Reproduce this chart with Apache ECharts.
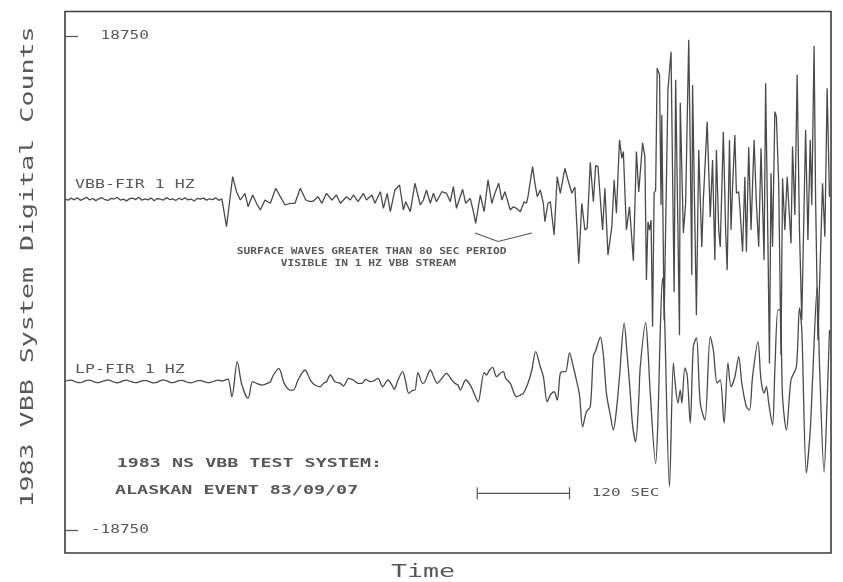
<!DOCTYPE html>
<html>
<head>
<meta charset="utf-8">
<script src="https://cdn.jsdelivr.net/npm/echarts@6/dist/echarts.min.js"></script>
<style>
  html, body { margin: 0; padding: 0; background: #ffffff; }
  #chart { width: 843px; height: 582px; }
</style>
</head>
<body>
<div id="chart"></div>
<script>
// ---- Seismogram data: time in seconds, amplitude in digital counts ----

// Axis tick values (counts)
const yTickValues = [18750, -18750];

// Trace baselines (counts) at which each channel is drawn
const VBB_BASE = 6346;
const LP_BASE = -7485;

// Pre-event noise, one sample every 4 s from t = 0
const QUIET_STEP = 4;
const vbbQuiet = [20,-60,90,-40,110,-80,30,150,-50,60,
  -100,40,120,-30,-90,70,20,140,-60,10,
  -120,50,90,-20,160,-70,30,-40,100,-110,
  60,10,-60,130,-20,40,-90,80,-30,120,
  -50,20,-130,70,10,90,-60,40,-20,110,
  -80,30];
const lpQuiet = [0,80,100,20,-70,-90,-10,90,110,30,
  -60,-80,0,70,120,50,-50,-100,-40,60,
  100,40,-40,-80,-30,50,90,30,-60,-110,
  -50,70,130,60,-40,-90,-20,60,90,20,
  -70,-100,-30,50,80,10,-60,-80,-20,70,
  100,40];

// VBB-FIR 1 Hz, event arrivals (times / counts)
const vbbTimes = [
  206,210,218,223,228,234,238,244,249,254,
  260,267,274,280,286,293,299,306,313,319,
  323,329,334,340,347,353,358,366,371,375,
  381,388,392,399,403,410,414,419,423,429,
  435,440,443,449,455,462,466,470,475,479,
  483,490,496,501,505,509,517,521,527,531,
  534,540,545,550,555,559,564,568,572,579,
  583,587,592,597,600,602,608,611,614,618,
  622,624,628,631,636,640,644,650,654,659,
  663,668,672,676,679,683,687,690,693,699,
  702,706,711,714,717,721,724,726,730,734,
  739,743,746,751,754,756,758,760,762,764,
  766,768,770,773,775,776,779,784,788,792,
  794,799,800,804,807,811,813,815,816,821,
  824,828,830,835,839,842,845,847,850,852,
  856,859,861,864,866,868,871,873,876,878,
  881,884,886,889,892,896,899,902,905,909,
  911,914,916,918,920,923,925,928,931,933,
  936,939,942,944,946,949,952,955,958,963,
  966,969,971,974,976,979,985,988,991,994];
const vbbCounts = [
  175,-2082,1718,578,-53,456,-562,327,-304,-813,
  -53,-304,836,198,-433,-304,-304,836,-53,-182,
  -129,198,-304,456,-53,327,-304,198,-53,327,
  -182,456,-53,327,-304,578,-684,456,-942,707,
  1087,-813,-182,-942,1216,-433,-53,707,-304,456,
  -182,578,456,-182,958,-684,760,-304,76,-942,
  -1824,327,-942,1467,-304,456,1216,-53,578,-813,
  -562,-684,-942,-182,-304,198,2478,1216,198,707,
  -304,-1702,-304,-182,-2713,1718,456,2356,1467,456,
  935,-4864,-304,-2333,-2181,2812,-182,2554,2478,-2333,
  836,-4233,-2082,1467,-1064,4507,3116,3618,-2333,-562,
  -4666,3618,555,4279,3238,-6133,-1702,-2333,-1573,-9682,
  456,707,9956,9447,-433,6407,-9173,8307,11195,-7049,
  9067,-10313,7319,-2561,-281,12107,3747,-5753,8667,-8793,
  3747,-3625,-53,5875,-1345,2987,-4613,3747,-2333,-3625,
  5115,-2333,-5373,4507,-2333,958,4887,456,578,-1064,
  -3982,1718,-3982,3952,-2333,4507,-304,-3602,3876,-4613,
  8816,-3344,-12464,1976,-3602,6658,6278,1216,-11833,1596,
  -2333,1718,-1322,-3344,3998,-1193,9447,-2333,-9173,5267,
  -3093,4507,-433,11651,-53,-10700,1216,-2842,8436,198];

// LP-FIR 1 Hz, event arrivals (times / counts)
const lpTimes = [
  208,212,217,224,230,238,244,249,256,261,
  267,271,278,285,293,297,303,312,319,325,
  332,336,340,345,351,358,362,369,375,381,
  386,391,397,401,407,413,420,425,428,433,
  439,443,447,453,455,459,465,468,475,481,
  484,490,496,503,507,511,514,521,527,531,
  537,545,548,552,556,561,566,570,573,579,
  587,592,596,602,607,612,618,622,627,631,
  636,640,644,648,651,656,661,665,669,673,
  678,683,687,690,696,700,704,709,713,717,
  721,727,731,735,738,742,746,748,755,758,
  761,768,771,774,777,779,786,791,793,797,
  800,802,806,809,813,817,821,826,832,839,
  843,848,852,857,862,866,871,876,880,886,
  890,894,901,905,909,912,915,920,923,927,
  930,933,938,944,951,955,958,964,969,972,
  978,981,987,991,994];
const lpCounts = [
  114,190,-1155,1505,-266,-1277,-15,-137,-266,-190,
  -15,494,1003,-137,-646,-646,114,874,114,-266,
  -395,-137,-15,494,-15,-137,-342,243,114,-137,
  -137,167,-15,38,243,-395,114,-266,-593,114,
  745,-15,-897,-646,-646,669,-137,-15,874,114,
  -137,243,623,114,-137,-266,-646,114,-266,-775,
  -1535,669,494,874,1079,365,623,745,243,-137,
  -1155,-1026,-897,-137,874,2265,1125,365,-1535,-1026,
  -775,-1406,623,745,745,2166,1102,114,-1026,-3435,
  -2295,-1915,1961,2341,3359,2014,-897,-2546,-3686,-2166,
  365,4423,2014,-897,-3306,-4575,-1406,1125,4469,2394,
  -897,-6217,-2926,3914,7866,6194,-7995,1406,114,-1634,
  -646,-1634,1026,494,-3154,2645,3306,-1634,-2926,3405,
  2394,-114,114,-3154,1406,-395,365,1885,-114,-1915,
  -2166,365,3025,114,-874,-395,-1634,-3306,874,5434,
  5434,-1155,-3686,114,1125,5586,3914,-6954,-3686,114,
  7182,1406,-6878,-1406,3914];

// Time scale bar
const scaleBarStart = 536;
const scaleBarSeconds = 120;
const scaleBarLabel = '120 SEC';

// Annotation texts
const vbbLabel = 'VBB-FIR 1 HZ';
const lpLabel = 'LP-FIR 1 HZ';
const noteLines = ['SURFACE WAVES GREATER THAN 80 SEC PERIOD', 'VISIBLE IN 1 HZ VBB STREAM'];
const titleLines = ['1983 NS VBB TEST SYSTEM:', 'ALASKAN EVENT 83/09/07'];
const yAxisTitle = '1983 VBB System Digital Counts';
const xAxisTitle = 'Time';

// ---- Build series points ----
function buildTrace(quiet, times, counts, base) {
  const pts = quiet.map((v, i) => [i * QUIET_STEP, v + base]);
  times.forEach((t, i) => pts.push([t, counts[i] + base]));
  return pts;
}
const vbbData = buildTrace(vbbQuiet, vbbTimes, vbbCounts, VBB_BASE);
const lpData = buildTrace(lpQuiet, lpTimes, lpCounts, LP_BASE);

const INK = '#4a4a4a';
const TEXT = '#585858';
const FONT = '"DejaVu Sans Mono", "Liberation Mono", monospace';
const SCALE_BAR_Y = -15970;

const chart = echarts.init(document.getElementById('chart'), null, { renderer: 'canvas' });

chart.setOption({
  animation: false,
  backgroundColor: '#ffffff',
  grid: {
    left: 65, right: 12, top: 11.5, bottom: 29,
    show: true, borderColor: '#3c3c3c', borderWidth: 1.6, backgroundColor: 'transparent'
  },
  xAxis: {
    type: 'value', min: 0, max: 996,
    axisLine: { show: false }, axisTick: { show: false },
    axisLabel: { show: false }, splitLine: { show: false }
  },
  yAxis: {
    type: 'value', min: -20500, max: 20600,
    axisLine: { show: false },
    axisTick: {
      show: true, inside: true, length: 13, customValues: yTickValues,
      lineStyle: { color: TEXT, width: 1.3 }
    },
    axisLabel: { show: false },
    splitLine: { show: false }
  },
  series: [
    {
      name: vbbLabel, type: 'line', data: vbbData, showSymbol: false,
      lineStyle: { color: INK, width: 1.3 }, z: 3
    },
    {
      name: lpLabel, type: 'line', data: lpData, showSymbol: false, smooth: 0.3,
      lineStyle: { color: INK, width: 1.3 }, z: 3
    },
    {
      type: 'custom',
      data: [[scaleBarStart, scaleBarStart + scaleBarSeconds]],
      renderItem: function (params, api) {
        const a = api.coord([api.value(0), SCALE_BAR_Y]);
        const b = api.coord([api.value(1), SCALE_BAR_Y]);
        const st = { stroke: '#555', lineWidth: 1.2 };
        return {
          type: 'group',
          children: [
            { type: 'line', shape: { x1: a[0], y1: a[1], x2: b[0], y2: b[1] }, style: st },
            { type: 'line', shape: { x1: a[0], y1: a[1] - 6, x2: a[0], y2: a[1] + 6 }, style: st },
            { type: 'line', shape: { x1: b[0], y1: b[1] - 6, x2: b[0], y2: b[1] + 6 }, style: st }
          ]
        };
      },
      z: 4
    }
  ]
});

function txt(text, x, y, size, scaleX, align, extra) {
  return Object.assign({
    type: 'text', x: x, y: y, scaleX: scaleX, silent: true, z: 10,
    style: {
      text: text, fontFamily: FONT, fontSize: size, fill: TEXT,
      align: align || 'left', verticalAlign: 'middle'
    }
  }, extra || {});
}

const graphics = [];
// y tick labels placed through the axis scale
yTickValues.forEach(function (v) {
  const py = chart.convertToPixel({ yAxisIndex: 0 }, v);
  graphics.push(txt(String(v), 149, py, 11.5, 1.4, 'right'));
});
graphics.push(txt(vbbLabel, 75, 185, 12, 1.38));
graphics.push(txt(lpLabel, 75, 370, 12, 1.38));
graphics.push(txt(noteLines[0], 371.7, 252.3, 8, 1.4, 'center'));
graphics.push(txt(noteLines[1], 368.3, 264.3, 8, 1.4, 'center'));
graphics[graphics.length - 1].style.fontWeight = 'bold';
graphics[graphics.length - 2].style.fontWeight = 'bold';
graphics.push(txt(titleLines[0], 116.7, 463.5, 12, 1.53, 'left'));
graphics.push(txt(titleLines[1], 115, 490.5, 12, 1.53, 'left'));
graphics[graphics.length - 1].style.fontWeight = 'bold';
graphics[graphics.length - 2].style.fontWeight = 'bold';
graphics.push(txt(scaleBarLabel, 591.7, 493.5, 10.5, 1.53, 'left'));
graphics.push(txt(xAxisTitle, 423, 572, 18, 1.48, 'center'));
graphics.push(txt(yAxisTitle, 28, 267, 18, 1.48, 'center', { rotation: Math.PI / 2 }));
// bracket under the surface-wave packet
graphics.push({
  type: 'polyline', silent: true, z: 10,
  shape: { points: [[475, 233], [498, 241.5], [532, 233]] },
  style: { stroke: '#555', lineWidth: 1.1, fill: null }
});

chart.setOption({ graphic: graphics });
</script>
</body>
</html>
